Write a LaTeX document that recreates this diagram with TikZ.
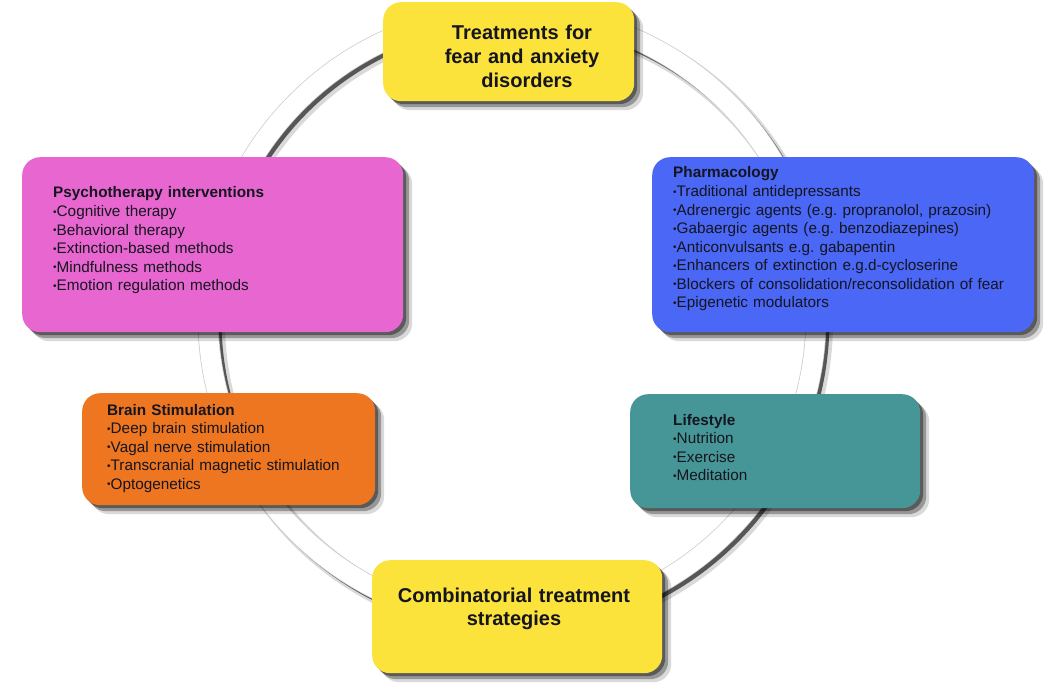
\documentclass[tikz,border=0pt]{standalone}
\usepackage{fontspec}
\setmainfont{Liberation Sans}
\usetikzlibrary{shadows}
\frenchspacing
\newcommand{\bl}{\raisebox{1.1bp}{\fontsize{10bp}{10bp}\selectfont •}}
\definecolor{cyellow}{HTML}{FBE33B}
\definecolor{cpink}{HTML}{E866D0}
\definecolor{cblue}{HTML}{4A67F5}
\definecolor{corange}{HTML}{EE7621}
\definecolor{cteal}{HTML}{469597}
\definecolor{ctext}{HTML}{15151F}
\begin{document}
\begin{tikzpicture}[x=1bp,y=-1bp,
  box/.style={rounded corners=18bp, inner sep=0pt, anchor=north west, draw=none,
    general shadow={fill=black,opacity=.15,shadow xshift=9bp,shadow yshift=-9bp},
    general shadow={fill=black,opacity=.30,shadow xshift=6bp,shadow yshift=-6bp},
    general shadow={fill=black,opacity=.40,shadow xshift=3bp,shadow yshift=-3bp}},
  txt/.style={anchor=base west, inner sep=0pt, text width=370bp, align=left,
    font=\fontsize{15.3bp}{18.5bp}\selectfont, text=ctext},
  ttl/.style={anchor=base, inner sep=0pt, text width=260bp, align=center,
    font=\bfseries\fontsize{20bp}{23.8bp}\selectfont, text=ctext}
]
\useasboundingbox (0,0) rectangle (1050,689);
\fill[white] (0,0) rectangle (1050,689);

% ring
\coordinate (ringc) at (512,317);
\coordinate (rings1) at (517,322);
\coordinate (rings2) at (515.5,320.5);
\draw[line width=24bp, black, opacity=.15] (rings1) circle[radius=304bp];
\draw[line width=20bp, black, opacity=.6] (rings2) circle[radius=304bp];
\draw[line width=21bp, black!20] (ringc) circle[radius=304bp];
\draw[line width=19.5bp, white] (ringc) circle[radius=304bp];

% boxes
\node (topbox) [box, fill=cyellow, minimum width=251bp, minimum height=99bp] at (383,2) {};
\node (pinkbox) [box, fill=cpink, minimum width=381bp, minimum height=175bp] at (22,157) {};
\node (bluebox) [box, fill=cblue, minimum width=382bp, minimum height=175bp] at (652,157) {};
\node (orangebox) [box, fill=corange, minimum width=293bp, minimum height=112bp] at (82,393) {};
\node (tealbox) [box, fill=cteal, minimum width=290bp, minimum height=114bp] at (630,394) {};
\node (botbox) [box, fill=cyellow, minimum width=290bp, minimum height=113bp] at (372,560) {};

% texts
\node (toptext) [ttl] at (522,40) {Treatments for\\fear and anxiety\\\hspace*{10bp}disorders};
\node (bottext) [ttl] at (514,602) {Combinatorial treatment\\strategies};

\node (pinktext) [txt] at (53,198) {\textbf{Psychotherapy interventions}\\
\bl Cognitive therapy\\
\bl Behavioral therapy\\
\bl Extinction-based methods\\
\bl Mindfulness methods\\
\bl Emotion regulation methods};

\node (bluetext) [txt] at (673,178) {\textbf{Pharmacology}\\
\bl Traditional antidepressants\\
\bl Adrenergic agents (e.g. propranolol, prazosin)\\
\bl Gabaergic agents (e.g. benzodiazepines)\\
\bl Anticonvulsants e.g. gabapentin\\
\bl Enhancers of extinction e.g.d-cycloserine\\
\bl Blockers of consolidation/reconsolidation of fear\\
\bl Epigenetic modulators};

\node (orangetext) [txt] at (107,415) {\textbf{Brain Stimulation}\\
\bl Deep brain stimulation\\
\bl Vagal nerve stimulation\\
\bl Transcranial magnetic stimulation\\
\bl Optogenetics};

\node (tealtext) [txt] at (673,425) {\textbf{Lifestyle}\\
\bl Nutrition\\
\bl Exercise\\
\bl Meditation};
\end{tikzpicture}
\end{document}
